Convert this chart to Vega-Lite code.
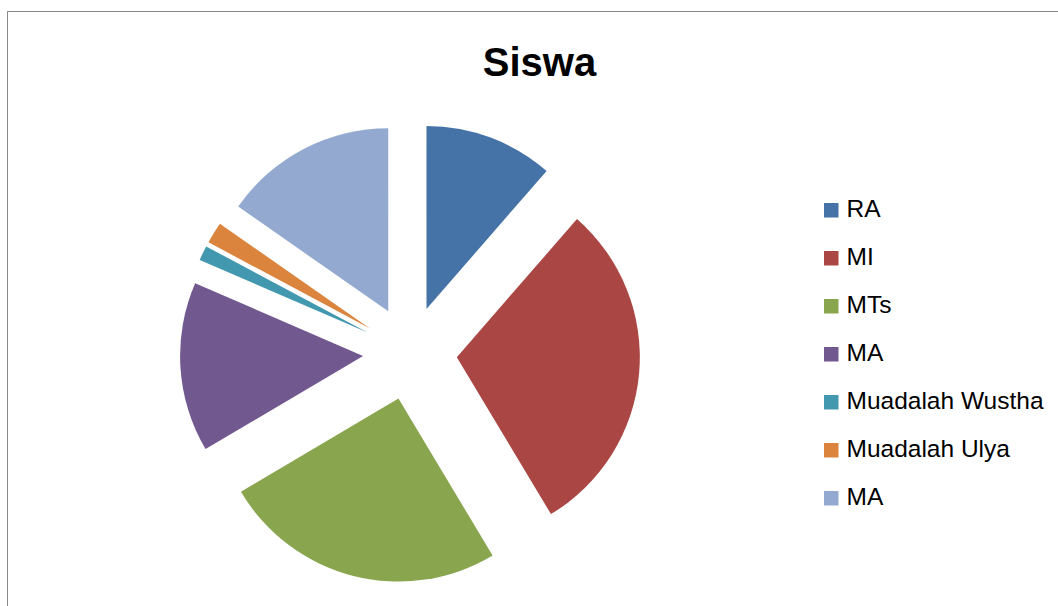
{
  "$schema": "https://vega.github.io/schema/vega-lite/v6.json",
  "width": 1051,
  "height": 595,
  "padding": {"left": 7, "top": 11, "right": 0, "bottom": 0},
  "background": "white",
  "view": {"stroke": "#878787", "strokeWidth": 1, "fill": "white", "strokeDash": [1646, 1646], "strokeDashOffset": 595},
  "title": {
    "text": "Siswa",
    "font": "Liberation Sans",
    "fontSize": 40,
    "fontWeight": "bold",
    "color": "#000000",
    "anchor": "middle",
    "frame": "group",
    "dx": 7,
    "offset": -73
  },
  "config": {
    "font": "Liberation Sans"
  },
  "data": {
    "values": [
      {"no": 1, "key": "RA", "value": 11.4},
      {"no": 2, "key": "MI", "value": 30.0},
      {"no": 3, "key": "MTs", "value": 25.1},
      {"no": 4, "key": "MA", "value": 15.0},
      {"no": 5, "key": "Muadalah Wustha", "value": 1.3},
      {"no": 6, "key": "Muadalah Ulya", "value": 1.9},
      {"no": 7, "key": "MA#2", "value": 15.3}
    ]
  },
  "mark": {
    "type": "arc",
    "radius": 183,
    "x": {"expr": "403 + 47*sin((scale('theta', datum.value_start) + scale('theta', datum.value_end))/2)"},
    "y": {"expr": "342 - 47*cos((scale('theta', datum.value_start) + scale('theta', datum.value_end))/2)"}
  },
  "encoding": {
    "theta": {"field": "value", "type": "quantitative", "stack": true},
    "order": {"field": "no", "type": "quantitative", "sort": "ascending"},
    "color": {
      "field": "key",
      "type": "nominal",
      "scale": {
        "domain": ["RA", "MI", "MTs", "MA", "Muadalah Wustha", "Muadalah Ulya", "MA#2"],
        "range": ["#4572A7", "#AA4643", "#89A54E", "#71588F", "#4198AF", "#DB843D", "#93A9CF"]
      },
      "legend": {
        "title": null,
        "orient": "none",
        "legendX": 812,
        "legendY": 187,
        "padding": 0,
        "symbolType": "square",
        "symbolSize": 210,
        "symbolStrokeWidth": 0,
        "labelFont": "Liberation Sans",
        "labelFontSize": 24.5,
        "labelColor": "#000000",
        "labelOffset": 3,
        "rowPadding": 23,
        "labelLimit": 400,
        "labelExpr": "replace(datum.label, '#2', '')"
      }
    }
  }
}
